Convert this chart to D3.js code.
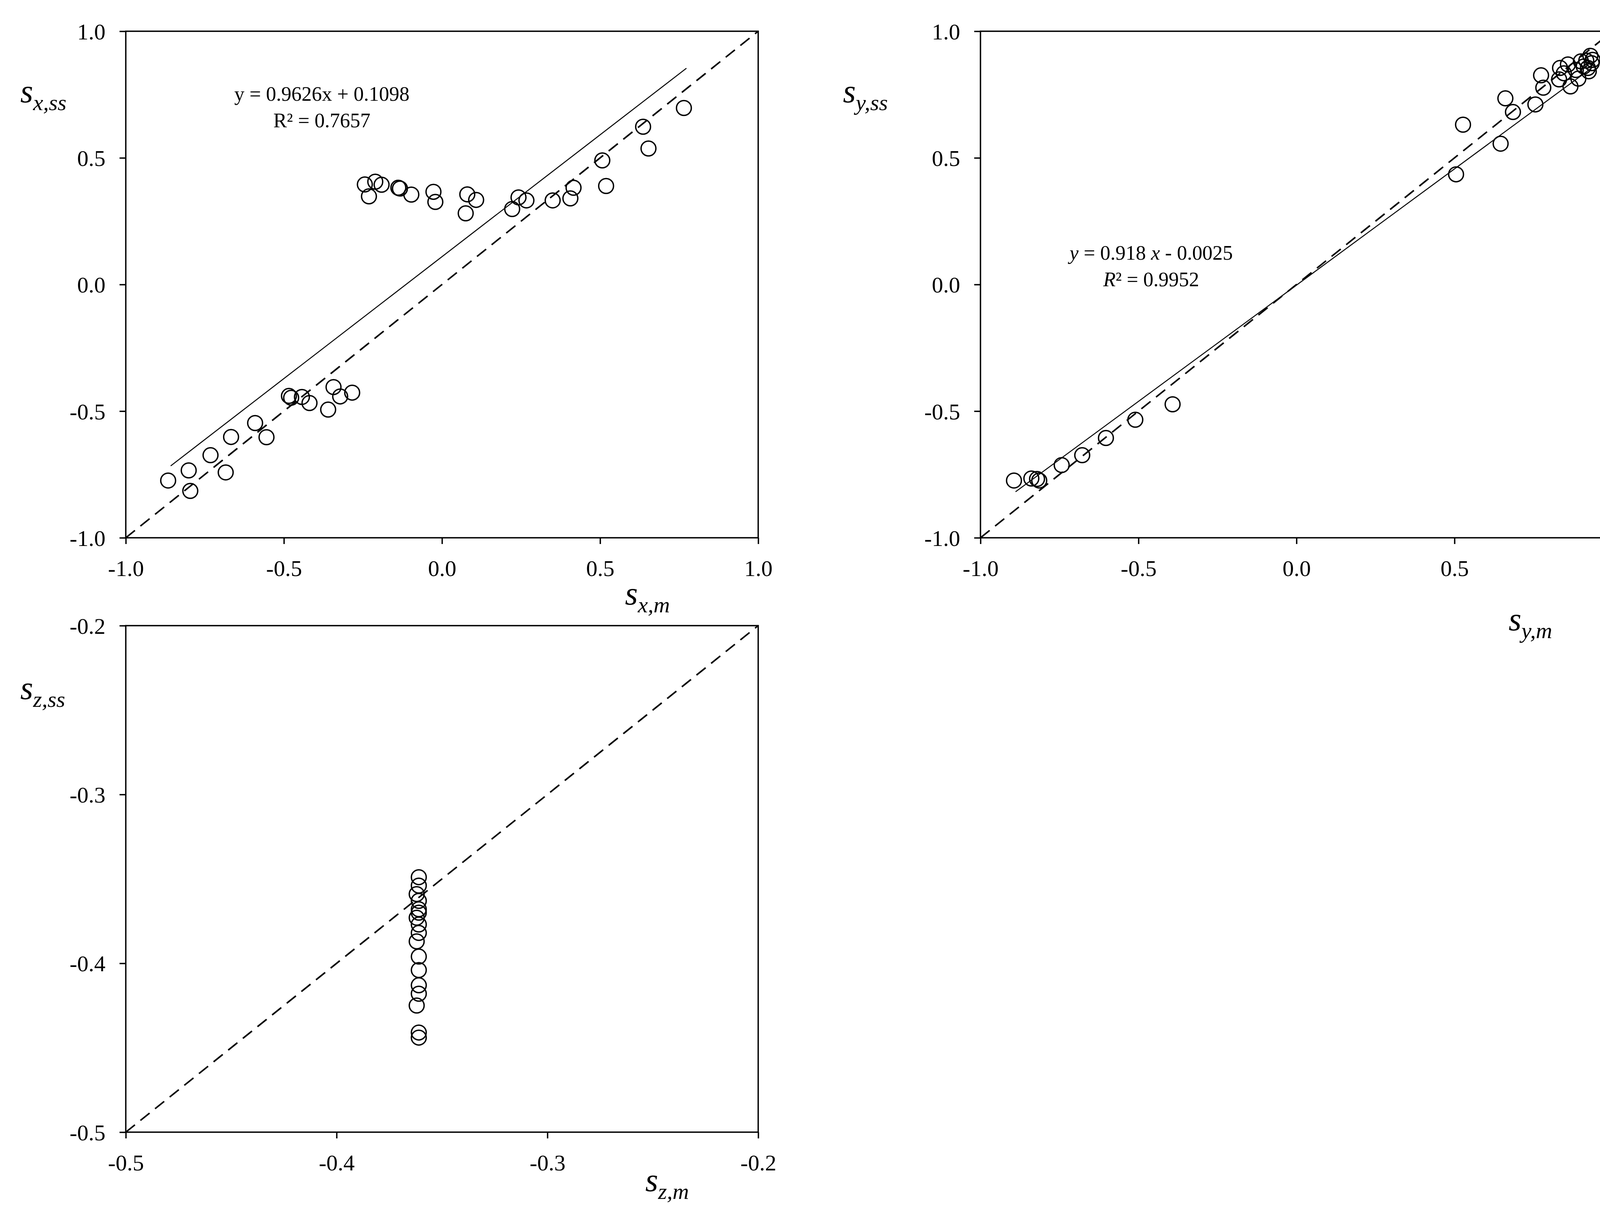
<!DOCTYPE html>
<html><head><meta charset="utf-8">
<script src="https://cdn.jsdelivr.net/npm/d3@7"></script>
<style>html,body{margin:0;padding:0;background:#fff;overflow:hidden} svg{display:block} text{font-family:"Liberation Serif","DejaVu Serif",serif}</style>
</head><body>
<script>
// panel 1: s_x
var sxM  = [-0.866,-0.801,-0.796,-0.732,-0.684,-0.667,-0.591,-0.555,-0.484,-0.477,-0.443,-0.419,-0.360,-0.343,-0.322,-0.284,
            -0.244,-0.231,-0.211,-0.191,-0.138,-0.133,-0.097,-0.027,-0.021,0.075,0.080,0.108,0.222,0.242,0.267,0.350,0.406,0.416,0.507,0.519,0.636,0.653,0.765];
var sxSS = [-0.774,-0.734,-0.815,-0.674,-0.742,-0.602,-0.547,-0.603,-0.440,-0.447,-0.444,-0.468,-0.494,-0.405,-0.442,-0.427,
            0.395,0.348,0.406,0.394,0.382,0.379,0.355,0.366,0.326,0.281,0.356,0.334,0.298,0.344,0.332,0.332,0.340,0.382,0.490,0.389,0.623,0.537,0.697];
// panel 2: s_y
var syM  = [-0.894,-0.839,-0.821,-0.814,-0.743,-0.678,-0.603,-0.510,-0.392,0.505,0.527,0.646,0.661,0.685,0.756,0.774,0.781,0.834,0.831,0.846,0.859,0.867,0.884,0.892,0.900,0.909,0.917,0.922,0.930,0.934,0.925,0.937];
var sySS = [-0.774,-0.766,-0.768,-0.774,-0.713,-0.674,-0.606,-0.534,-0.473,0.435,0.631,0.556,0.735,0.681,0.711,0.826,0.777,0.855,0.810,0.834,0.869,0.782,0.847,0.813,0.881,0.861,0.884,0.855,0.903,0.874,0.842,0.887];
// panel 3: s_z
var szM  = [-0.361,-0.361,-0.362,-0.361,-0.361,-0.362,-0.361,-0.361,-0.362,-0.361,-0.361,-0.361,-0.361,-0.362,-0.361,-0.361,-0.361];
var szSS = [-0.349,-0.354,-0.359,-0.363,-0.368,-0.373,-0.377,-0.382,-0.387,-0.396,-0.404,-0.413,-0.418,-0.425,-0.441,-0.444,-0.370];

var ticks12 = [-1.0,-0.5,0.0,0.5,1.0];
var ticksZ = [-0.5,-0.4,-0.3,-0.2];

var svg = d3.select("body").append("svg")
  .attr("width",4209).attr("height",3106).attr("viewBox","0 0 4209 3106");

function fmt(d){ return d.toFixed(1); }

function panel(o){
  var x = d3.scaleLinear().domain(o.dom).range([o.x0,o.x1]);
  var y = d3.scaleLinear().domain(o.dom).range([o.y1,o.y0]);
  var g = svg.append("g");
  g.append("rect").attr("x",o.x0).attr("y",o.y0).attr("width",o.x1-o.x0).attr("height",o.y1-o.y0)
    .attr("fill","none").attr("stroke","#000").attr("stroke-width",3.5);
  var ax = g.append("g").attr("transform","translate(0,"+o.y1+")")
    .call(d3.axisBottom(x).tickValues(o.ticks).tickFormat(fmt).tickSize(16).tickPadding(30));
  var ay = g.append("g").attr("transform","translate("+o.x0+",0)")
    .call(d3.axisLeft(y).tickValues(o.ticks).tickFormat(fmt).tickSize(16).tickPadding(36));
  [ax,ay].forEach(function(a){
    a.select(".domain").remove();
    a.selectAll("line").attr("stroke-width",3.5);
    a.selectAll("text").attr("font-size",58).attr("font-family","Liberation Serif").attr("fill","#000");
  });
  ax.selectAll("text").attr("dy","0.9em");
  ay.selectAll("text").attr("dy","0.35em");
  // 1:1 line
  g.append("line").attr("x1",x(o.dom[0])).attr("y1",y(o.dom[0])).attr("x2",x(o.dom[1])).attr("y2",y(o.dom[1]))
    .attr("stroke","#000").attr("stroke-width",4).attr("stroke-dasharray","30,18");
  if(o.fit){
    g.append("line").attr("x1",x(o.fit.x[0])).attr("y1",y(o.fit.a*o.fit.x[0]+o.fit.b))
      .attr("x2",x(o.fit.x[1])).attr("y2",y(o.fit.a*o.fit.x[1]+o.fit.b))
      .attr("stroke","#000").attr("stroke-width",2.5);
  }
  g.selectAll("circle.p").data(o.xs).enter().append("circle").attr("class","p")
    .attr("cx",function(d){return x(d);}).attr("cy",function(d,i){return y(o.ys[i]);})
    .attr("r",19).attr("fill","none").attr("stroke","#000").attr("stroke-width",3.5);
  function lab(px,py,sub){
    var t = g.append("text").attr("x",px).attr("y",py).attr("font-size",84).attr("font-style","italic");
    t.append("tspan").text("s");
    t.append("tspan").attr("font-size",58).attr("dy",20).text(sub);
  }
  lab(o.yl[0],o.yl[1],o.ysub);
  lab(o.xl[0],o.xl[1],o.xsub);
  if(o.eq){
    var e1 = g.append("text").attr("x",o.eq.x).attr("y",o.eq.y).attr("text-anchor","middle").attr("font-size",52);
    o.eq.l1.forEach(function(s){ e1.append("tspan").attr("font-style",s[1]?"italic":"normal").text(s[0]); });
    var e2 = g.append("text").attr("x",o.eq.x).attr("y",o.eq.y+68).attr("text-anchor","middle").attr("font-size",52);
    o.eq.l2.forEach(function(s){ e2.append("tspan").attr("font-style",s[1]?"italic":"normal").text(s[0]); });
  }
}

panel({dom:[-1,1],x0:322,x1:1941,y0:80,y1:1377,ticks:ticks12,xs:sxM,ys:sxSS,
  fit:{a:0.9626,b:0.1098,x:[-0.858,0.773]},ysub:"x,ss",xsub:"x,m",yl:[52,262],xl:[1600,1548],
  eq:{x:824,y:258,l1:[["y = 0.9626x + 0.1098",false]],l2:[["R² = 0.7657",false]]}});
panel({dom:[-1,1],x0:2510,x1:4128,y0:80,y1:1377,ticks:ticks12,xs:syM,ys:sySS,
  fit:{a:0.918,b:-0.0025,x:[-0.889,0.935]},ysub:"y,ss",xsub:"y,m",yl:[2158,262],xl:[3862,1614],
  eq:{x:2947,y:665,l1:[["y",true],[" = 0.918 ",false],["x",true],[" - 0.0025",false]],l2:[["R",true],["² = 0.9952",false]]}});
panel({dom:[-0.5,-0.2],x0:322,x1:1941,y0:1602,y1:2899,ticks:ticksZ,xs:szM,ys:szSS,
  ysub:"z,ss",xsub:"z,m",yl:[52,1790],xl:[1652,3050]});
</script>
</body></html>
